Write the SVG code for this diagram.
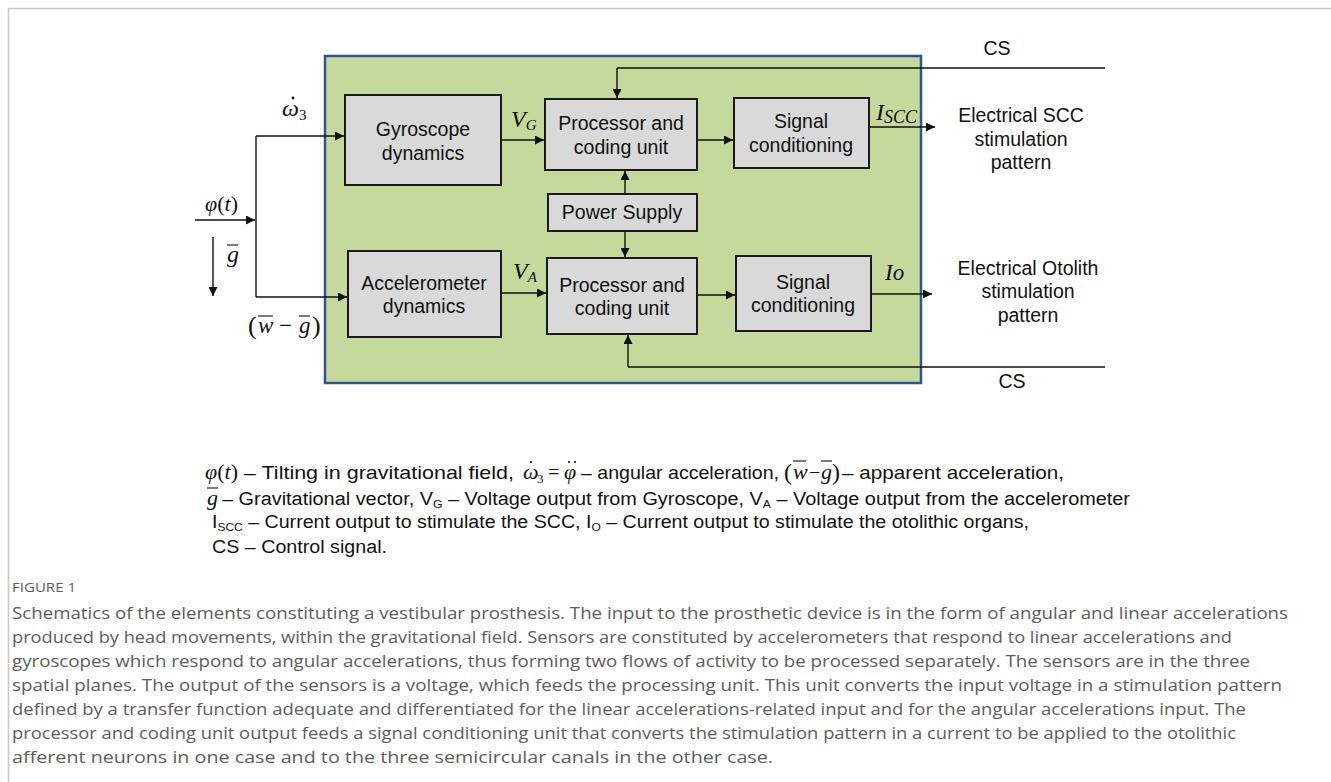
<svg xmlns="http://www.w3.org/2000/svg" width="1331" height="782" viewBox="0 0 1331 782">
<defs>
<marker id="arr" viewBox="0 0 10 10" refX="10" refY="5" markerWidth="9" markerHeight="9" markerUnits="userSpaceOnUse" orient="auto">
<path d="M0,0 L10,5 L0,10 z" fill="#111"/>
</marker>
<style>
.blk{fill:#d9d9d9;stroke:#1a1a1a;stroke-width:2}
.lbl{font-family:"Liberation Sans",Arial,sans-serif;font-size:19.5px;fill:#111;text-anchor:middle}
.m{font-family:"Liberation Serif","Times New Roman",serif;font-style:italic;fill:#111}
.n{font-family:"Liberation Serif","Times New Roman",serif;fill:#111}
.c{stroke:#111;stroke-width:1.4;fill:none}
.ca{stroke:#111;stroke-width:1.4;fill:none;marker-end:url(#arr)}
.leg{font-family:"Liberation Sans",Arial,sans-serif;font-size:18px;fill:#111}
.leg1{font-family:"Liberation Sans",Arial,sans-serif;font-size:19px;fill:#111}
.cap{font-family:"Open Sans","Noto Sans",sans-serif;font-size:16.5px;fill:#5c5c5c}
.ob{stroke:#111;stroke-width:1.1}
</style>
</defs>
<rect x="0" y="0" width="1331" height="782" fill="#fff"/>
<path d="M8.5,782 V8.5 H1331" fill="none" stroke="#c8c8c8" stroke-width="1.6"/>

<g id="device">
<rect x="325" y="56" width="596" height="327" fill="#c5d99d" stroke="#2f5496" stroke-width="2.5"/>
</g>

<g id="connectors">
<line class="c" x1="617" y1="68" x2="1105" y2="68"/>
<path class="ca" d="M617,68 V98"/>
<path class="ca" d="M501,140 H544"/>
<path class="ca" d="M697,140 H733"/>
<path class="ca" d="M869,127 H935"/>
<path class="ca" d="M625,194 V171"/>
<path class="ca" d="M625,231 V257"/>
<path class="ca" d="M501,293 H546"/>
<path class="ca" d="M697,295 H735"/>
<path class="ca" d="M871,294 H932"/>
<line class="c" x1="628" y1="367" x2="1105" y2="367"/>
<path class="ca" d="M628,367 V335"/>
<path class="ca" d="M195,220 H255"/>
<line class="c" x1="256" y1="136" x2="256" y2="297"/>
<path class="ca" d="M256,136 H344"/>
<path class="ca" d="M256,297 H347"/>
<path class="ca" d="M213,237 V296"/>
</g>

<g id="gyro">
<rect class="blk" x="345" y="95" width="156" height="90"/>
<text class="lbl" x="423" y="136">Gyroscope</text>
<text class="lbl" x="423" y="160">dynamics</text>
</g>
<g id="proc-top">
<rect class="blk" x="545" y="99" width="152" height="71"/>
<text class="lbl" x="621" y="130">Processor and</text>
<text class="lbl" x="621" y="154">coding unit</text>
</g>
<g id="sig-top">
<rect class="blk" x="734" y="98" width="135" height="70"/>
<text class="lbl" x="801" y="128">Signal</text>
<text class="lbl" x="801" y="152">conditioning</text>
</g>
<g id="power">
<rect class="blk" x="548" y="194" width="149" height="37"/>
<text class="lbl" x="622" y="219">Power Supply</text>
</g>
<g id="accel">
<rect class="blk" x="348" y="251" width="153" height="86"/>
<text class="lbl" x="424" y="290">Accelerometer</text>
<text class="lbl" x="424" y="313">dynamics</text>
</g>
<g id="proc-bot">
<rect class="blk" x="547" y="258" width="150" height="76"/>
<text class="lbl" x="622" y="292">Processor and</text>
<text class="lbl" x="622" y="315">coding unit</text>
</g>
<g id="sig-bot">
<rect class="blk" x="736" y="256" width="135" height="75"/>
<text class="lbl" x="803" y="289">Signal</text>
<text class="lbl" x="803" y="312">conditioning</text>
</g>

<g id="outputs">
<text class="lbl" x="1021" y="122">Electrical SCC</text>
<text class="lbl" x="1021" y="146">stimulation</text>
<text class="lbl" x="1021" y="169">pattern</text>
<text class="lbl" x="1028" y="275">Electrical Otolith</text>
<text class="lbl" x="1028" y="298">stimulation</text>
<text class="lbl" x="1028" y="322">pattern</text>
<text class="lbl" x="997" y="55">CS</text>
<text class="lbl" x="1012" y="388">CS</text>
</g>

<g id="math-labels">
<text class="m" x="511" y="127" font-size="24">V<tspan font-size="15" dy="3">G</tspan></text>
<text class="m" x="876" y="120" font-size="24">I<tspan font-size="18" dy="3">SCC</tspan></text>
<text class="m" x="513" y="279" font-size="24">V<tspan font-size="15" dy="3">A</tspan></text>
<text class="m" x="885" y="280" font-size="23">Io</text>
<text class="m" x="282" y="116" font-size="24">ω<tspan font-size="15" font-style="normal" dy="4">3</tspan></text>
<circle cx="293" cy="98" r="1.4" fill="#111"/>
<text class="m" x="205" y="211" font-size="22">φ<tspan font-style="normal">(</tspan>t<tspan font-style="normal">)</tspan></text>
<text class="m" x="227" y="262" font-size="24">g</text>
<line class="ob" x1="227" y1="245" x2="238" y2="245"/>
<text class="n" x="248" y="334" font-size="26">(</text>
<text class="m" x="258" y="333" font-size="23">w</text>
<text class="n" x="279" y="333" font-size="23">−</text>
<text class="m" x="299" y="333" font-size="23">g</text>
<text class="n" x="312" y="334" font-size="26">)</text>
<line class="ob" x1="258" y1="316" x2="273" y2="316"/>
<line class="ob" x1="299" y1="316" x2="310" y2="316"/>
</g>

<g id="legend">
<text class="m" x="205" y="479" font-size="22">φ<tspan font-style="normal">(</tspan>t<tspan font-style="normal">)</tspan></text>
<text class="leg1" x="244" y="479" textLength="270" lengthAdjust="spacingAndGlyphs">– Tilting in gravitational  field,</text>
<text class="m" x="523" y="479" font-size="22">ω</text>
<text class="n" x="537" y="483" font-size="13">3</text>
<text class="n" x="548" y="479" font-size="20">=</text>
<text class="m" x="564" y="479" font-size="22">φ</text>
<circle cx="531" cy="462" r="1.1" fill="#111"/>
<circle cx="569" cy="462" r="1.1" fill="#111"/>
<circle cx="575" cy="462" r="1.1" fill="#111"/>
<text class="leg1" x="581" y="479" textLength="198" lengthAdjust="spacingAndGlyphs">– angular acceleration,</text>
<text class="n" x="784" y="480" font-size="24">(</text>
<text class="m" x="793" y="479" font-size="22">w</text>
<text class="n" x="809" y="479" font-size="20">−</text>
<text class="m" x="821" y="479" font-size="22">g</text>
<text class="n" x="832" y="480" font-size="24">)</text>
<line class="ob" x1="793" y1="461" x2="806" y2="461"/>
<line class="ob" x1="821" y1="461" x2="832" y2="461"/>
<text class="leg1" x="842" y="479" textLength="222" lengthAdjust="spacingAndGlyphs">– apparent acceleration,</text>
<text class="m" x="207" y="505" font-size="22">g</text>
<line class="ob" x1="207" y1="488" x2="218" y2="488"/>
<text class="leg" x="222" y="505" textLength="908" lengthAdjust="spacingAndGlyphs">– Gravitational  vector, V<tspan font-size="11" dy="3">G</tspan><tspan dy="-3"> – Voltage output from Gyroscope, V</tspan><tspan font-size="11" dy="3">A</tspan><tspan dy="-3"> – Voltage output from the accelerometer</tspan></text>
<text class="leg" x="212" y="528" textLength="817" lengthAdjust="spacingAndGlyphs">I<tspan font-size="11" dy="3">SCC</tspan><tspan dy="-3"> – Current output to stimulate the SCC, I</tspan><tspan font-size="11" dy="3">O</tspan><tspan dy="-3"> – Current output to stimulate the otolithic organs,</tspan></text>
<text class="leg" x="212" y="553" textLength="175" lengthAdjust="spacingAndGlyphs">CS – Control signal.</text>
</g>

<g id="caption">
<text x="12" y="592" font-family="'Open Sans','Noto Sans',sans-serif" font-size="12" fill="#5c5c5c" textLength="64" lengthAdjust="spacingAndGlyphs">FIGURE 1</text>
<text class="cap" x="12" y="619" textLength="1276" lengthAdjust="spacingAndGlyphs">Schematics of the elements constituting a vestibular prosthesis. The input to the prosthetic device is in the form of angular and linear accelerations</text>
<text class="cap" x="12" y="643" textLength="1220" lengthAdjust="spacingAndGlyphs">produced by head movements, within the gravitational field. Sensors are constituted by accelerometers that respond to linear accelerations and</text>
<text class="cap" x="12" y="667" textLength="1238" lengthAdjust="spacingAndGlyphs">gyroscopes which respond to angular accelerations, thus forming two flows of activity to be processed separately. The sensors are in the three</text>
<text class="cap" x="12" y="691" textLength="1270" lengthAdjust="spacingAndGlyphs">spatial planes. The output of the sensors is a voltage, which feeds the processing unit. This unit converts the input voltage in a stimulation pattern</text>
<text class="cap" x="12" y="715" textLength="1234" lengthAdjust="spacingAndGlyphs">defined by a transfer function adequate and differentiated for the linear accelerations-related input and for the angular accelerations input. The</text>
<text class="cap" x="12" y="739" textLength="1224" lengthAdjust="spacingAndGlyphs">processor and coding unit output feeds a signal conditioning unit that converts the stimulation pattern in a current to be applied to the otolithic</text>
<text class="cap" x="12" y="763" textLength="761" lengthAdjust="spacingAndGlyphs">afferent neurons in one case and to the three semicircular canals in the other case.</text>
</g>
</svg>
